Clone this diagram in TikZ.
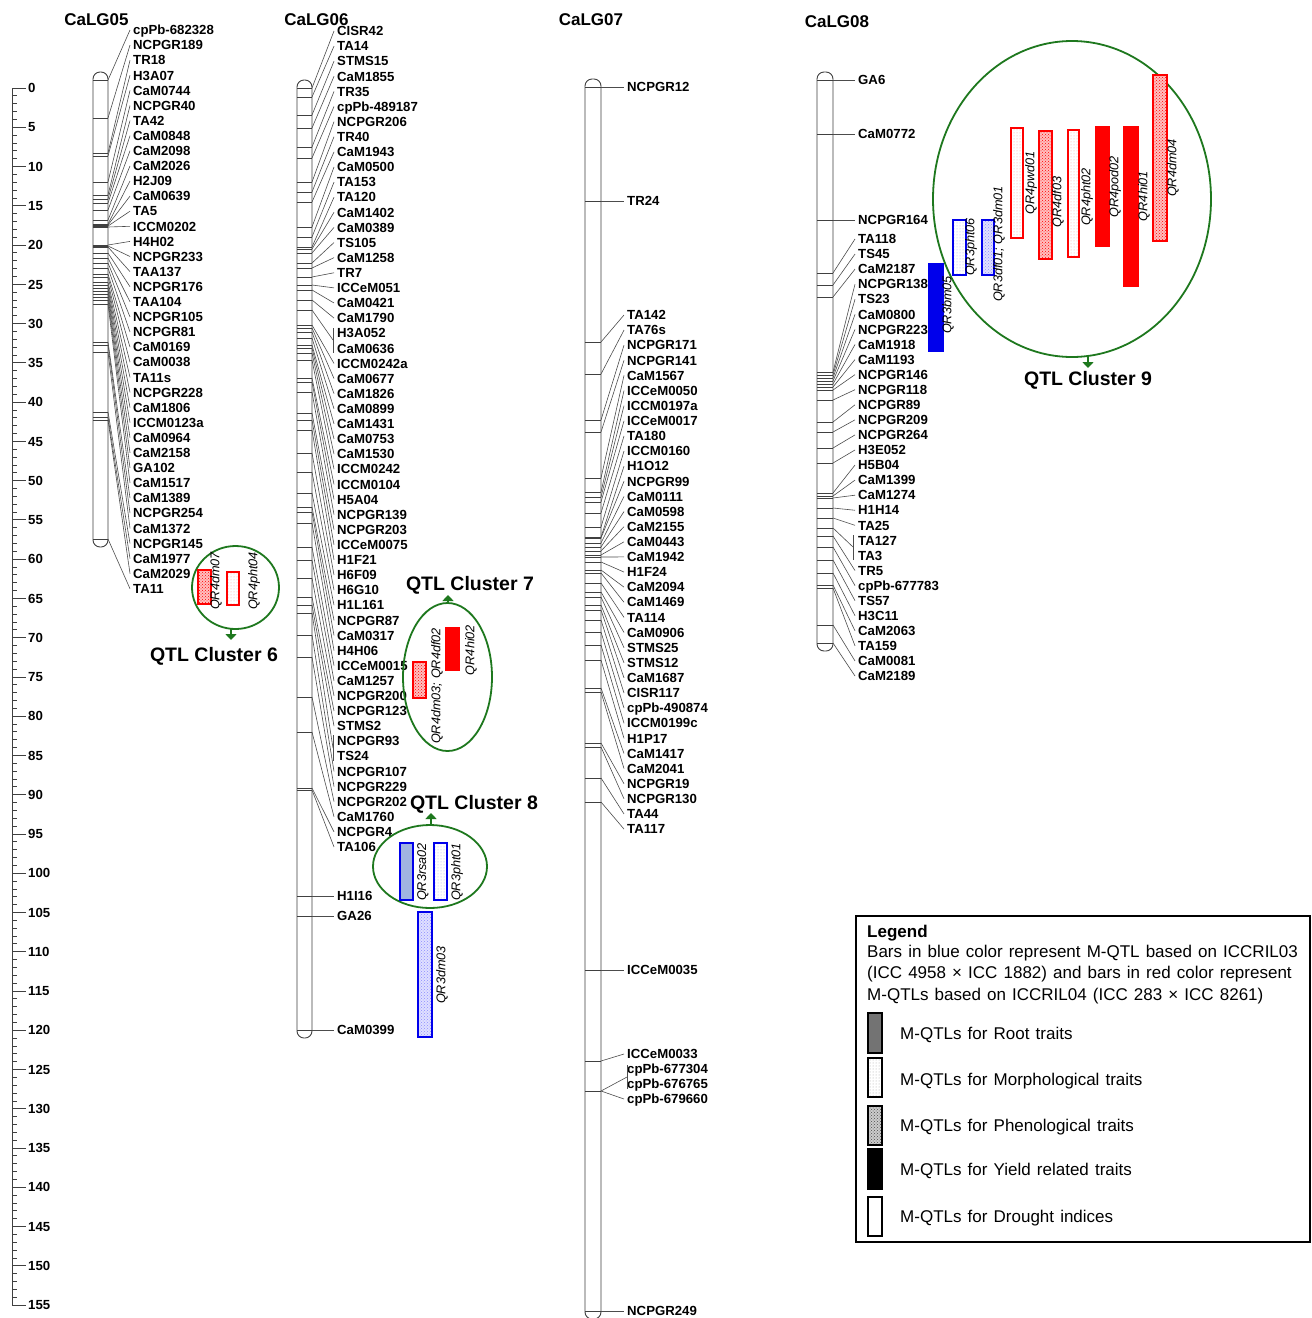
\documentclass[tikz,border=0pt]{standalone}
\usepackage{fontspec}
\setmainfont{Liberation Sans}
\usetikzlibrary{patterns,arrows.meta}
\definecolor{qred}{RGB}{255,0,0}
\definecolor{qblue}{RGB}{0,0,235}
\definecolor{qgreen}{RGB}{30,120,30}
\definecolor{lblue}{RGB}{160,180,225}
\newcommand\lgfont{\fontsize{17}{19}\selectfont\spaceskip=0.36em plus 0.1em minus 0.05em\relax}
\tikzset{
 lab/.style={anchor=west, inner sep=1pt, font=\bfseries\fontsize{13.2}{14}\selectfont, text height=9.4pt, text depth=0pt},
 num/.style={anchor=west, inner sep=1pt, font=\bfseries\fontsize{13.2}{14}\selectfont, text height=9.4pt, text depth=0pt},
 ttl/.style={inner sep=0pt, font=\bfseries\fontsize{17}{19}\selectfont},
 clu/.style={inner sep=0pt, font=\bfseries\fontsize{19.5}{21}\selectfont},
 qlab/.style={rotate=90, inner sep=0pt, font=\itshape\fontsize{12.7}{13}\selectfont},
 lg/.style={anchor=west, inner sep=1pt, font=\lgfont, text height=12.2pt, text depth=0pt},
 chr/.style={draw=black!75, line width=0.9pt, rounded corners=7pt},
 mk/.style={draw=black!75, line width=0.7pt},
 con/.style={draw=black!70, line width=0.6pt},
 rul/.style={draw=black!75, line width=0.8pt},
 gell/.style={draw=qgreen, line width=1.8pt},
 garrow/.style={draw=qgreen, line width=2pt, -{Triangle[length=6pt,width=11pt]}},
 redhatch/.style={draw=qred, line width=1.5pt, preaction={fill=red!25}, pattern=crosshatch dots, pattern color=qred},
 reddot/.style={draw=qred, line width=1.5pt, preaction={fill=white}, pattern=dots, pattern color=red!40},
 redsolid/.style={draw=qred, fill=qred, line width=1.5pt},
 bluehatch/.style={draw=qblue, line width=1.5pt, preaction={fill=blue!12}, pattern=crosshatch dots, pattern color=blue!45},
 bluedot/.style={draw=qblue, line width=1.5pt, preaction={fill=white}, pattern=dots, pattern color=blue!35},
 bluesolid/.style={draw=qblue, fill=qblue, line width=1.5pt},
 blueroot/.style={draw=qblue, fill=lblue, line width=1.5pt},
 lgbox/.style={draw=black, line width=1.5pt},
}
% prefix, xl, xr, label x, y0, dy, list
\newcommand\gmap[7]{%
 \foreach \t/\m [count=\i] in {#7} {
   \node[lab] (#1-\i) at (#4,{#5+(\i-1)*#6}) {\t};
   \ifdim \m pt>0pt
     \draw[mk] (#2,\m) -- (#3,\m);
     \draw[con] (#3,\m) -- ([xshift=-2pt]#1-\i.west);
   \fi
 }}
% name, xl, xr, label x, label y, marker y, text
\newcommand\hlab[7]{%
 \node[lab] (#1) at (#4,#5) {#7};
 \draw[mk] (#2,#6) -- (#3,#6);
 \draw[con] (#3,#6) -- ([xshift=-2pt]#1.west);
}
\begin{document}
\begin{tikzpicture}[x=1pt,y=-1pt]
\useasboundingbox (0,0) rectangle (1312,1318);
\fill[white] (0,0) rectangle (1312,1318);

% ruler
\foreach \c in {0,...,155} \draw[rul] (12,{88+\c*7.852}) -- (17,{88+\c*7.852});
\foreach \c in {0,5,...,155} {\draw[rul] (12,{88+\c*7.852}) -- (26,{88+\c*7.852});
  \node[num] (r\c) at (27,{88+\c*7.852}) {\c};}
\draw[rul] (12,88) -- (12,1305);

% titles
\node[ttl] (t5) at (96.5,20) {CaLG05};
\node[ttl] (t6) at (316.5,20) {CaLG06};
\node[ttl] (t7) at (591,20) {CaLG07};
\node[ttl] (t8) at (837,22) {CaLG08};

% ---------------- CaLG05
\draw[chr] (93,72) rectangle (108,547);
\gmap{a}{93}{108}{132}{30}{15.1}{cpPb-682328/80, NCPGR189/118, TR18/153, H3A07/156, CaM0744/182, NCPGR40/195, TA42/199, CaM0848/203, CaM2098/210, CaM2026/220, H2J09/224, CaM0639/225, TA5/226, ICCM0202/227, H4H02/245, NCPGR233/246, TAA137/247, NCPGR176/253, TAA104/258, NCPGR105/263, NCPGR81/268, CaM0169/274, CaM0038/277, TA11s/282, NCPGR228/285, CaM1806/288, ICCM0123a/291, CaM0964/294, CaM2158/297, GA102/300, CaM1517/304, CaM1389/342, NCPGR254/345, CaM1372/352, NCPGR145/412, CaM1977/417, CaM2029/420, TA11/539}

% ---------------- CaLG06
\draw[chr] (297,80) rectangle (312,1038);
\gmap{b}{297}{312}{336}{31}{15.11}{CISR42/88, TA14/97, STMS15/115, CaM1855/128, TR35/147, cpPb-489187/158, NCPGR206/182, TR40/192, CaM1943/202, CaM0500/227, TA153/237, TA120/247, CaM1402/249, CaM0389/253, TS105/263, CaM1258/268, TR7/277, ICCeM051/285, CaM0421/290, CaM1790/300, H3A052/-1, CaM0636/-1, ICCM0242a/325, CaM0677/328, CaM1826/332, CaM0899/338, CaM1431/345, CaM0753/348, CaM1530/353, ICCM0242/360, ICCM0104/378, H5A04/382, NCPGR139/392, NCPGR203/413, ICCeM0075/420, H1F21/430, H6F09/453, H6G10/472, H1L161/493, NCPGR87/507, CaM0317/512, H4H06/523, ICCeM0015/547, CaM1257/560, NCPGR200/578, NCPGR123/597, STMS2/605, NCPGR93/-1, TS24/-1, NCPGR107/635, NCPGR229/657, NCPGR202/697, CaM1760/732, NCPGR4/788, TA106/790}
\draw[mk] (297,310) -- (312,310);
\coordinate (bk1) at (333,340);
\draw[con] (333,328) -- (333,353);
\draw[con] (312,310) -- (bk1);
\draw[mk] (297,613) -- (312,613);
\coordinate (bk2) at (333,748);
\draw[con] (333,735) -- (333,761);
\draw[con] (312,613) -- (bk2);
\hlab{b-h1}{297}{312}{336}{896}{896}{H1I16}
\hlab{b-h2}{297}{312}{336}{916}{916}{GA26}
\hlab{b-h3}{297}{312}{336}{1030}{1030}{CaM0399}

% ---------------- CaLG07
\draw[chr] (585,79) rectangle (601,1319);
\hlab{c-h1}{585}{601}{626}{87}{87}{NCPGR12}
\hlab{c-h2}{585}{601}{626}{201}{201}{TR24}
\gmap{c}{585}{601}{626}{315}{15.12}{TA142/342, TA76s/374, NCPGR171/420, NCPGR141/432, CaM1567/478, ICCeM0050/492, ICCM0197a/497, ICCeM0017/502, TA180/513, ICCM0160/527, H1O12/537, NCPGR99/538, CaM0111/543, CaM0598/547, CaM2155/551, CaM0443/555, CaM1942/557, H1F24/562, CaM2094/570, CaM1469/573, TA114/583, CaM0906/592, STMS25/597, STMS12/605, CaM1687/610, CISR117/620, cpPb-490874/632, ICCM0199c/645, H1P17/660, CaM1417/688, CaM2041/692, NCPGR19/743, NCPGR130/747, TA44/778, TA117/802}
\hlab{c-h3}{585}{601}{626}{970}{970}{ICCeM0035}
\hlab{c-h4}{585}{601}{626}{1054}{1061}{ICCeM0033}
\node[lab] (c-h5) at (626,1069) {cpPb-677304};
\node[lab] (c-h6) at (626,1084) {cpPb-676765};
\hlab{c-h7}{585}{601}{626}{1099}{1091}{cpPb-679660}
\coordinate (bk3) at (627,1077);
\draw[con] (627,1065) -- (627,1089);
\draw[con] (601,1091) -- (bk3);
\hlab{c-h8}{585}{601}{626}{1311}{1311}{NCPGR249}

% ---------------- CaLG08
\draw[chr] (817,72) rectangle (833,651);
\hlab{d-h1}{817}{833}{857}{80}{80}{GA6}
\hlab{d-h2}{817}{833}{857}{134}{134}{CaM0772}
\hlab{d-h3}{817}{833}{857}{220}{220}{NCPGR164}
\gmap{d}{817}{833}{857}{239}{15.07}{TA118/273, TS45/285, CaM2187/297, NCPGR138/372, TS23/375, CaM0800/378, NCPGR223/381, CaM1918/384, CaM1193/387, NCPGR146/390, NCPGR118/400, NCPGR89/422, NCPGR209/432, NCPGR264/448, H3E052/463, H5B04/493, CaM1399/496, CaM1274/498, H1H14/508, TA25/518, TA127/-1, TA3/-1, TR5/536, cpPb-677783/547, TS57/560, H3C11/573, CaM2063/585, TA159/588, CaM0081/625, CaM2189/643}
\draw[mk] (817,528) -- (833,528);
\coordinate (bk4) at (853,547);
\draw[con] (853,535) -- (853,560);
\draw[con] (833,528) -- (bk4);

% ---------------- QTL cluster 6
\draw[gell] (235.5,587.5) ellipse [x radius=43.5, y radius=41.5];
\draw[redhatch] (198,570) rectangle (211,604);
\draw[reddot] (227,572) rectangle (239,605);
\node[qlab] (q1) at (216,581) {QR4dm07};
\node[qlab] (q2) at (254,581) {QR4pht04};
\draw[garrow] (231,629) -- (231,640);
\node[clu] (k6) at (214,656) {QTL Cluster 6};

% ---------------- QTL cluster 7
\draw[gell] (447.5,677) ellipse [x radius=44.5, y radius=74];
\draw[redhatch] (413,662) rectangle (426,698);
\draw[redsolid] (446,628) rectangle (459,670);
\node[qlab] (q3) at (437,686) {QR4dm03; QR4df02};
\node[qlab] (q4) at (471,650) {QR4hi02};
\draw[garrow] (448,604) -- (448,595);
\node[clu] (k7) at (470,585) {QTL Cluster 7};

% ---------------- QTL cluster 8
\draw[gell] (430,866.5) ellipse [x radius=57, y radius=41.5];
\draw[blueroot] (400,843) rectangle (413,900);
\draw[bluedot] (434,843) rectangle (447,900);
\draw[bluehatch] (418,912) rectangle (432,1037);
\node[qlab] (q5) at (423,872) {QR3rsa02};
\node[qlab] (q6) at (457,872) {QR3pht01};
\node[qlab] (q7) at (442,975) {QR3dm03};
\draw[garrow] (431,825) -- (431,813);
\node[clu] (k8) at (474,804) {QTL Cluster 8};

% ---------------- QTL cluster 9
\draw[gell] (1072,199) ellipse [x radius=139, y radius=158];
\draw[bluesolid] (929,264) rectangle (943,351);
\draw[bluedot] (953,220) rectangle (966,275);
\draw[bluehatch] (982,220) rectangle (994,275);
\draw[reddot] (1011,128) rectangle (1023,238);
\draw[redhatch] (1039,131) rectangle (1052,259);
\draw[reddot] (1068,130) rectangle (1079,257);
\draw[redsolid] (1096,127) rectangle (1109,246);
\draw[redsolid] (1124,127) rectangle (1138,286);
\draw[redhatch] (1153,75) rectangle (1167,241);
\node[qlab] (q8) at (948,305) {QR3bm05};
\node[qlab] (q9) at (971,247) {QR3pht06};
\node[qlab] (q10) at (999,244) {QR3df01; QR3dm01};
\node[qlab] (q11) at (1031,183) {QR4pwd01};
\node[qlab] (q12) at (1058,202) {QR4df03};
\node[qlab] (q13) at (1087,197) {QR4pht02};
\node[qlab] (q14) at (1115,187) {QR4pod02};
\node[qlab] (q15) at (1144,196) {QR4hi01};
\node[qlab] (q16) at (1173,168) {QR4dm04};
\draw[garrow] (1088,357) -- (1088,368);
\node[clu] (k9) at (1088,380) {QTL Cluster 9};

% ---------------- legend
\draw[lgbox] (856,916) rectangle (1310,1242);
\node[lg, font=\bfseries\fontsize{17}{19}\selectfont] (lg0) at (866,931) {Legend};
\node[lg] (lg1) at (866,951) {Bars in blue color represent M-QTL based on ICCRIL03};
\node[lg] (lg2) at (866,972.5) {(ICC 4958 × ICC 1882) and bars in red color represent};
\node[lg] (lg3) at (866,994) {M-QTLs based on ICCRIL04 (ICC 283 × ICC 8261)};
\draw[draw=black, line width=1.5pt, fill=black!55] (868,1013) rectangle (882,1053);
\draw[draw=black, line width=1.5pt, preaction={fill=white}, pattern=dots, pattern color=black!35] (868,1058) rectangle (882,1097);
\draw[draw=black, line width=1.5pt, preaction={fill=black!20}, pattern=crosshatch dots, pattern color=black!70] (868,1106) rectangle (882,1145);
\draw[draw=black, line width=1.5pt, fill=black] (868,1149) rectangle (882,1189);
\draw[draw=black, line width=1.5pt, fill=white] (868,1197) rectangle (882,1236);
\node[lg] (lg4) at (899,1033) {M-QTLs for Root traits};
\node[lg] (lg5) at (899,1079) {M-QTLs for Morphological traits};
\node[lg] (lg6) at (899,1125) {M-QTLs for Phenological traits};
\node[lg] (lg7) at (899,1169) {M-QTLs for Yield related traits};
\node[lg] (lg8) at (899,1216) {M-QTLs for Drought indices};
\end{tikzpicture}
\end{document}
